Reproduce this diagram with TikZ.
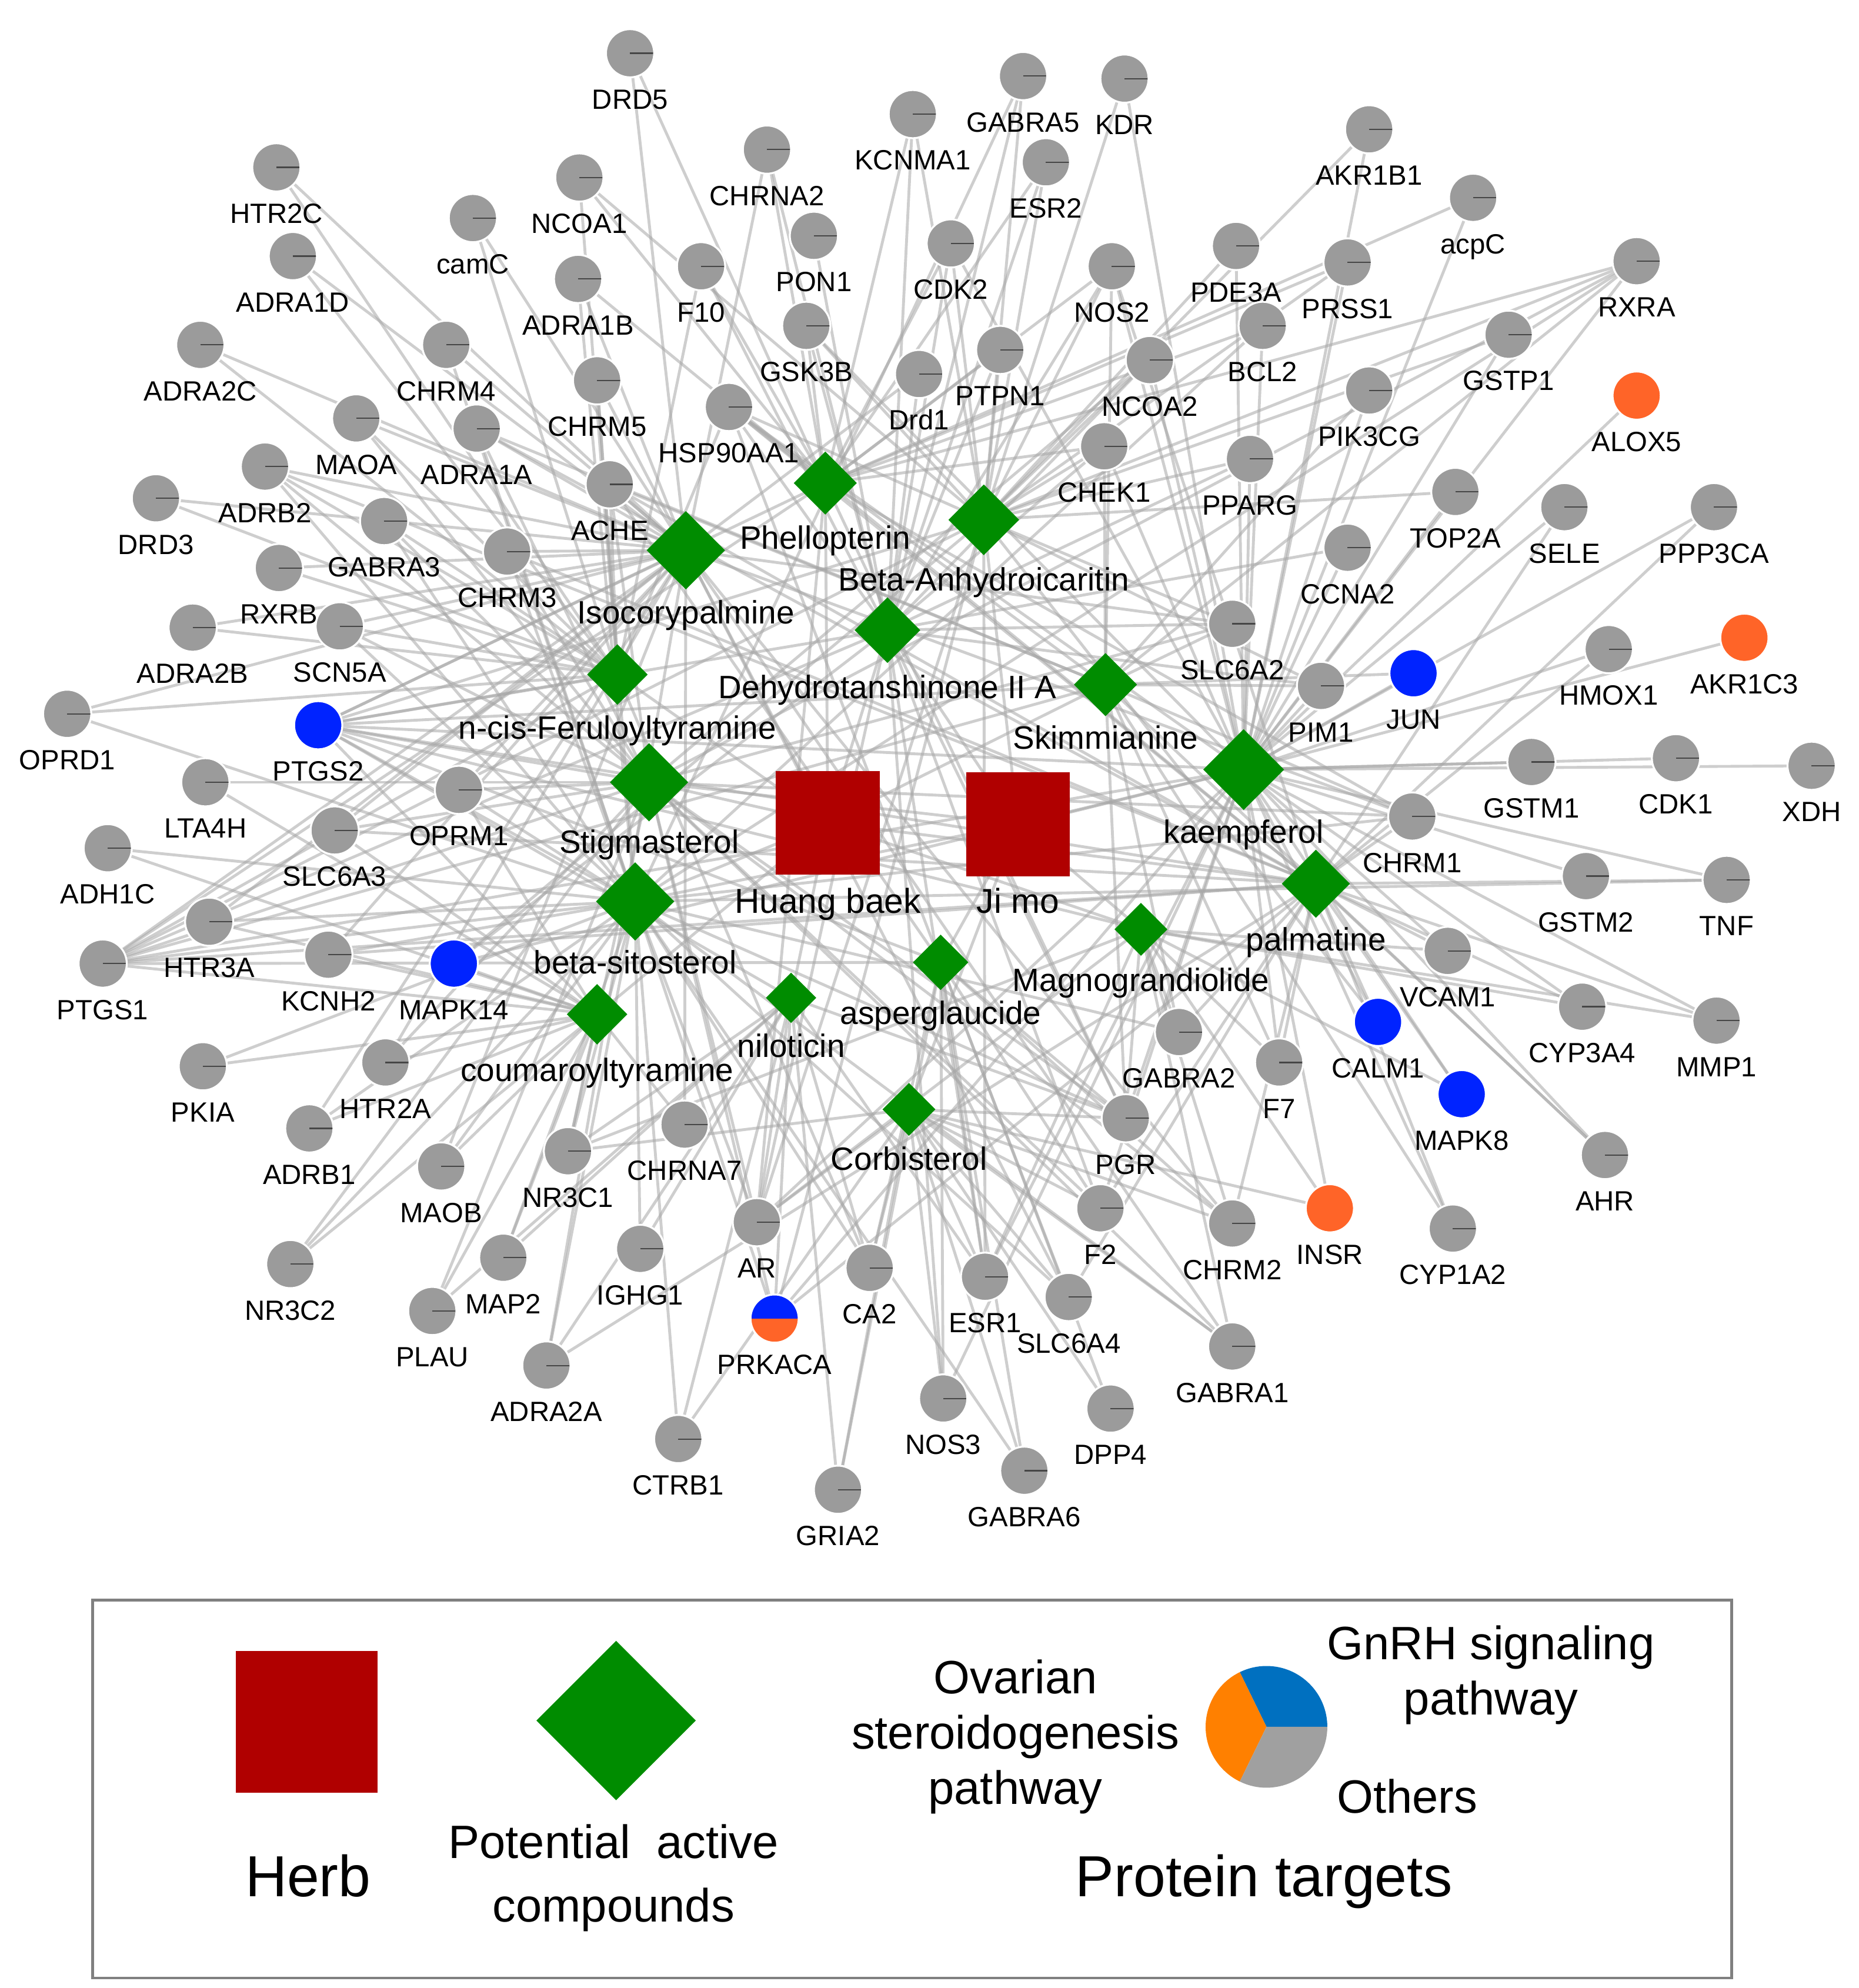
\documentclass[tikz,border=0pt]{standalone}
\usepackage{fontspec}
\setmainfont{Liberation Sans}
\usetikzlibrary{shapes.geometric}

\definecolor{nodegray}{RGB}{155,155,155}
\definecolor{tblue}{RGB}{0,35,255}
\definecolor{torange}{RGB}{255,100,40}
\definecolor{cgreen}{RGB}{0,140,0}
\definecolor{hred}{RGB}{176,0,0}
\definecolor{pblue}{RGB}{0,112,192}
\definecolor{porange}{RGB}{255,128,0}
\definecolor{pgray}{RGB}{160,160,160}

\pgfdeclarelayer{bg}
\pgfsetlayers{bg,main}

\tikzset{
  tnode/.style={circle, fill=nodegray, draw=white, line width=0.3mm, minimum size=7.6mm, inner sep=0pt,
    path picture={\draw[gray!55!black, line width=0.2mm] (path picture bounding box.center) -- (path picture bounding box.east);}},
  cnode/.style={circle, draw=white, line width=0.3mm, minimum size=7.6mm, inner sep=0pt},
  splitnode/.style={cnode,
    path picture={\fill[tblue] (path picture bounding box.north west) rectangle (path picture bounding box.east);
                  \fill[torange] (path picture bounding box.west) rectangle (path picture bounding box.south east);}},
  tlab/.style={anchor=base, inner sep=0pt, font=\fontsize{12.5}{14}\selectfont},
  comp/.style={diamond, fill=cgreen, inner sep=0pt, minimum size=#1},
  clab/.style={anchor=base, inner sep=0pt, font=\fontsize{14.5}{17}\selectfont},
  herb/.style={rectangle, fill=hred, inner sep=0pt, minimum size=#1},
  hlab/.style={anchor=base, inner sep=0pt, font=\fontsize{15.5}{18}\selectfont},
  edge/.style={draw=black!35, line width=0.45mm, opacity=0.55},
  legbig/.style={anchor=base, inner sep=0pt, font=\fontsize{26}{30}\selectfont},
  legtxt/.style={anchor=center, inner sep=0pt, align=center, font=\fontsize{21}{24.8}\selectfont},
}

\begin{document}
\begin{tikzpicture}[x=0.2mm, y=-0.2mm]
  \useasboundingbox (0,0) rectangle (1466,1568);

  % herbs
  \node[herb=16.4mm] (hb) at (653,649) {};
  \node[hlab] (hb-l) at (653,720) {Huang baek};
  \node[herb=16.4mm] (jm) at (803,650) {};
  \node[hlab] (jm-l) at (803,720) {Ji mo};

  % compounds: name/x/y/size/label y/text
  \foreach \n/\x/\y/\s/\ly/\txt in {
      phe/651/381/50/424/Phellopterin,
      bah/776/410/56/457/Beta-Anhydroicaritin,
      iso/541/434/62/483/Isocorypalmine,
      deh/700/497/52/542/Dehydrotanshinone II A,
      fer/487/532/48/574/n-cis-Feruloyltyramine,
      ski/872/540/50/582/Skimmianine,
      kae/981/607/64/656/kaempferol,
      sti/512/617/62/664/Stigmasterol,
      pal/1038/697/54/741/palmatine,
      sit/501/711/62/759/beta-sitosterol,
      mag/900/733/42/773/Magnograndiolide,
      asp/742/759/44/799/asperglaucide,
      nil/624/787/40/825/niloticin,
      cou/471/800/48/844/coumaroyltyramine,
      cor/717/875/42/914/Corbisterol}
  {
    \node[comp=\s*0.2mm] (\n) at (\x,\y) {};
    \node[clab] (\n-l) at (\x,\ly+9) {\txt};
  }

  % protein targets (gray)
  \foreach \n/\x/\y in {
      DRD5/497/42, GABRA5/807/60, KDR/887/62, KCNMA1/720/90, AKR1B1/1080/102,
      HTR2C/218/132, CHRNA2/605/118, ESR2/825/128, NCOA1/457/140, acpC/1162/156,
      camC/373/172, PON1/642/186, CDK2/750/192, ADRA1D/231/202, F10/553/210,
      NOS2/877/210, PDE3A/975/194, PRSS1/1063/207, RXRA/1291/206, ADRA1B/456/220,
      GSK3B/636/257, BCL2/996/257, GSTP1/1190/264, ADRA2C/158/272, CHRM4/352/272,
      PTPN1/789/276, NCOA2/907/284, Drd1/725/295, CHRM5/471/300, PIK3CG/1080/308,
      MAOA/281/330, ADRA1A/376/338, HSP90AA1/575/321, CHEK1/871/352, PPARG/986/362,
      ADRB2/209/368, DRD3/123/393, ACHE/481/382, TOP2A/1148/388, GABRA3/303/411,
      SELE/1234/400, PPP3CA/1352/400, CHRM3/400/435, CCNA2/1063/432, RXRB/220/448,
      ADRA2B/152/495, SCN5A/268/494, SLC6A2/972/492, HMOX1/1269/512, PIM1/1042/541,
      OPRD1/53/563, GSTM1/1208/601, CDK1/1322/598, XDH/1429/604, LTA4H/162/617,
      OPRM1/362/623, SLC6A3/264/655, CHRM1/1114/644, ADH1C/85/669, GSTM2/1251/691,
      TNF/1362/694, HTR3A/165/727, PTGS1/81/760, KCNH2/259/753, VCAM1/1142/750,
      CYP3A4/1248/794, MMP1/1354/805, GABRA2/930/814, F7/1009/838, PKIA/160/841,
      HTR2A/304/838, PGR/888/882, ADRB1/244/890, CHRNA7/540/887, AHR/1266/911,
      MAOB/348/920, NR3C1/448/908, F2/868/953, CHRM2/972/965, AR/597/964,
      CYP1A2/1146/969, IGHG1/505/985, MAP2/397/992, NR3C2/229/997, CA2/686/1000,
      ESR1/777/1007, SLC6A4/843/1023, PLAU/341/1034, GABRA1/972/1062, ADRA2A/431/1077,
      NOS3/744/1103, DPP4/876/1111, CTRB1/535/1135, GABRA6/808/1160, GRIA2/661/1175}
  {
    \node[tnode] (\n) at (\x,\y) {};
    \node[tlab] (\n-l) at (\x,\y+44) {\n};
  }

  % GnRH signaling pathway
  \foreach \n/\x/\y in {JUN/1115/531, PTGS2/251/572, MAPK14/358/760, CALM1/1087/806, MAPK8/1153/863}
  {
    \node[cnode, fill=tblue] (\n) at (\x,\y) {};
    \node[tlab] (\n-l) at (\x,\y+44) {\n};
  }
  % ovarian steroidogenesis pathway
  \foreach \n/\x/\y in {ALOX5/1291/312, AKR1C3/1376/503, INSR/1049/953}
  {
    \node[cnode, fill=torange] (\n) at (\x,\y) {};
    \node[tlab] (\n-l) at (\x,\y+44) {\n};
  }
  % both pathways
  \node[splitnode] (PRKACA) at (611,1040) {};
  \node[tlab] (PRKACA-l) at (611,1084) {PRKACA};

  % edges
  \begin{pgfonlayer}{bg}
    \foreach \c/\ts in {
        hb/{iso,phe,fer,sti,sit,cou,nil,pal,ski,mag,deh},
        jm/{kae,bah,deh,asp,cor,sti,sit,mag},
        kae/{PTGS1,PTGS2,NOS2,HSP90AA1,PPARG,AKR1B1,CDK2,GSK3B,XDH,CDK1,GSTM1,GSTM2,AHR,CYP1A2,CYP3A4,MMP1,TNF,VCAM1,SELE,HMOX1,JUN,CALM1,MAPK8,AKR1C3,ALOX5,RXRA,BCL2,PIM1,CCNA2,TOP2A,PIK3CG,GSTP1,INSR,F7,F2,PRSS1,NCOA2,ESR1,AR,PGR,NOS3,KDR,CHEK1,acpC,MAPK14,PRKACA,PDE3A,PPP3CA},
        sti/{PGR,NR3C1,NR3C2,AR,CHRM1,CHRM2,CHRM3,ADRA1A,ADRB2,SLC6A2,SLC6A3,PTGS1,PTGS2,OPRM1,GABRA1,GABRA3,PLAU,PRKACA,MAOA,RXRA,SCN5A,HTR2A,ACHE,NCOA2,F2,LTA4H},
        sit/{PGR,NR3C1,NR3C2,AR,CHRM1,CHRM3,CHRM4,CHRM5,ADRA1A,ADRA1B,ADRB1,ADRB2,SLC6A4,OPRM1,OPRD1,GABRA1,GABRA2,GABRA3,GABRA5,GABRA6,PTGS1,PTGS2,MAP2,IGHG1,CTRB1,PRKACA,KCNH2,HTR3A,RXRA,SCN5A,TNF,BCL2,PKIA,CA2,ADRA2A,MAOB,ADH1C},
        iso/{ADRA1A,ADRA1B,ADRA1D,ADRA2A,ADRA2B,ADRA2C,ADRB1,ADRB2,DRD3,DRD5,Drd1,CHRM1,CHRM2,CHRM3,CHRM4,CHRM5,HTR2C,HTR2A,HTR3A,OPRD1,OPRM1,SLC6A2,SLC6A3,SLC6A4,MAOA,MAOB,KCNH2,ACHE,CHRNA2,CHRNA7,SCN5A,PTGS1,PTGS2,GABRA1,RXRB,camC},
        pal/{ADRA1A,ADRA1B,ADRA2A,ADRB2,CHRM1,CHRM2,CHRM3,SLC6A3,SLC6A4,ACHE,KCNH2,NOS2,PTGS2,PTGS1,HSP90AA1,PRKACA,CALM1,F2,F7,GABRA2,CYP3A4,VCAM1,MMP1,MAPK8,TNF,AHR,CYP1A2,SELE,PPP3CA,HMOX1},
        phe/{PTGS1,PTGS2,HSP90AA1,NOS2,PRSS1,ESR2,AR,PGR,CHRM1,GSK3B,CDK2,KCNMA1,F10,acpC,RXRA,CHEK1,PTPN1,BCL2,DRD5,CHRNA2,NCOA1},
        bah/{PTGS2,PTGS1,HSP90AA1,ESR1,ESR2,AR,NOS2,PPARG,CDK2,GSK3B,KDR,GABRA5,KCNMA1,CHEK1,PIM1,PDE3A,PTPN1,NCOA2,NCOA1,MAPK14,PRKACA,CALM1,AKR1B1,TOP2A,SLC6A2,RXRA,GSTP1,PRSS1},
        deh/{PTGS2,PTGS1,NOS2,HSP90AA1,AR,ESR1,PGR,CDK2,GSK3B,PON1,CHRNA2,PTPN1,Drd1,F10,PIM1,NCOA2,CCNA2,PPARG,SLC6A2,CHEK1,KCNMA1,MAPK14,F2,NOS3,GABRA5,ESR2},
        fer/{PTGS2,PTGS1,HSP90AA1,CA2,CHRM5,F10,ACHE,NCOA1,camC,HTR2C,ADRA2C,MAOA,ADRB2,DRD3,GABRA3,RXRB,ADRA2B,SCN5A,OPRD1,ADRA1D},
        ski/{PTGS2,PTGS1,HSP90AA1,ACHE,CHRM1,ADRA1A,SLC6A2,GABRA2,PIM1,CHEK1,NOS2,PGR,F7,CYP1A2,AHR,JUN,PIK3CG,RXRA},
        mag/{PGR,AR,NR3C1,ESR1,PTGS2,CHRM2,GABRA1,GABRA2,F7,INSR,CYP3A4,VCAM1,MMP1,MAPK8},
        asp/{PTGS2,PTGS1,ESR1,SLC6A4,DPP4,F2,NOS3,PGR,CHRM2,CA2,GABRA6,GRIA2,ACHE,HSP90AA1},
        nil/{PTGS2,AR,PGR,NR3C1,IGHG1,CTRB1,PRKACA,CA2,GRIA2,ADRA2A,PLAU,ESR1,MAP2},
        cou/{PTGS2,PTGS1,LTA4H,ADH1C,HTR3A,PKIA,ADRB1,MAOB,NR3C2,PLAU,MAP2,HTR2A,KCNH2,MAPK14,SLC6A3,OPRM1,CHRNA7,NR3C1},
        cor/{AR,PGR,NR3C1,ESR1,CA2,DPP4,NOS3,GABRA6,SLC6A4,CHRM2,GABRA1,F2,INSR,GRIA2,CTRB1}}
      \foreach \t in \ts
        \draw[edge] (\c.center) -- (\t.center);
  \end{pgfonlayer}

  % legend
  \draw[draw=gray, line width=0.4mm] (73,1262) rectangle (1366,1560);
  \node[herb=22.4mm] (legherb) at (242,1358) {};
  \node[legbig] (legherb-l) at (243,1496) {Herb};
  \node[comp=25.2mm] (legcomp) at (486,1357) {};
  \node[legtxt, font=\fontsize{21}{28.5}\selectfont] (legcomp-l) at (484,1481) {Potential\ \ active\\compounds};
  \node[legtxt] (legovar) at (801,1370) {Ovarian\\steroidogenesis\\pathway};
  \node[legtxt] (leggnrh) at (1176,1321) {GnRH signaling\\pathway};
  \node[legtxt, anchor=base] (legother) at (1110,1430) {Others};
  \node[legbig] (legprot) at (997,1496) {Protein targets};
  % pie
  \fill[pblue] (999,1362) -- ++(0:48) arc (0:-116:48) -- cycle;
  \fill[porange] (999,1362) -- ++(-116:48) arc (-116:-244:48) -- cycle;
  \fill[pgray] (999,1362) -- ++(-244:48) arc (-244:-360:48) -- cycle;
\end{tikzpicture}
\end{document}
